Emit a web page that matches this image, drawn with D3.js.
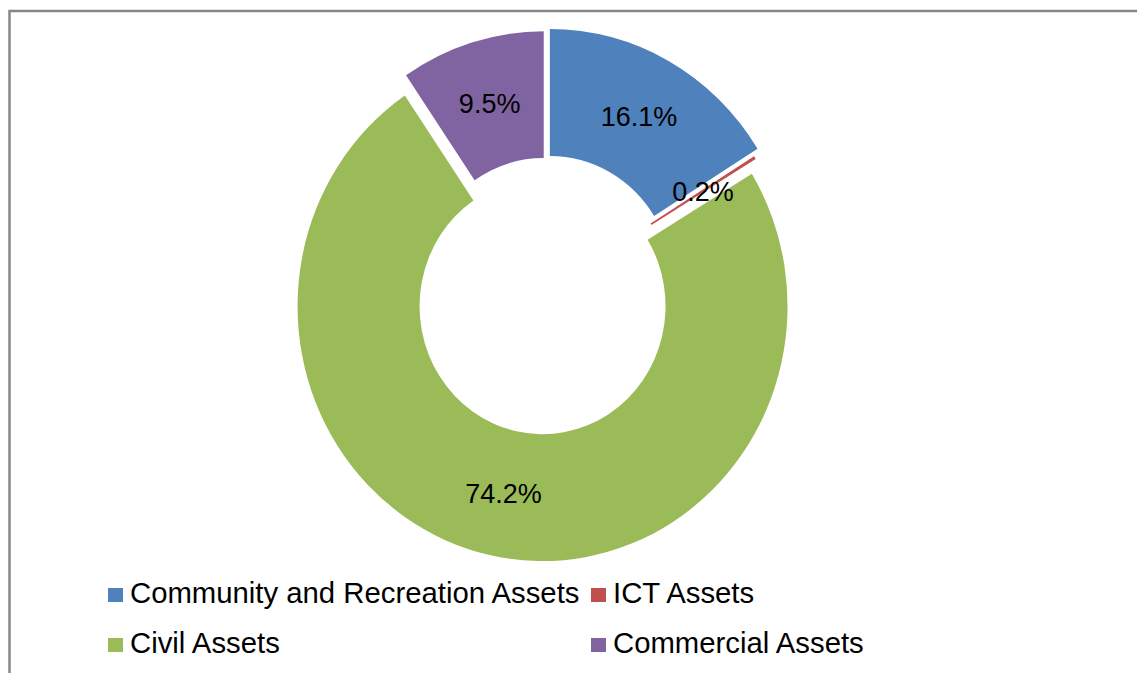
<!DOCTYPE html>
<html>
<head>
<meta charset="utf-8">
<script src="https://d3js.org/d3.v7.min.js"></script>
<style>
  body { margin: 0; background: #fff; }
  text { font-family: "Liberation Sans", Arial, sans-serif; fill: #000; }
</style>
</head>
<body>
<div id="chart-container"></div>
<script>
const categories = ["Community and Recreation Assets", "ICT Assets", "Civil Assets", "Commercial Assets"];
const shares = [16.1, 0.2, 74.2, 9.5];
const colors = ["#4F81BD", "#C0504D", "#9BBB59", "#8064A2"];

function renderChart() {
  const width = 1137, height = 673;
  const cx = 545.5, cy = 292, stretch = 1.04;
  const outerR = 245, innerR = 123;
  const explode = [9, 1, 14, 6]; // per slice, px

  const svg = d3.select("#chart-container").append("svg")
    .attr("width", width)
    .attr("height", height);

  // chart frame
  svg.append("rect")
    .attr("x", 9.5).attr("y", 11)
    .attr("width", width + 20).attr("height", height + 20)
    .attr("fill", "none")
    .attr("stroke", "#878787")
    .attr("stroke-width", 2.5);

  const color = d3.scaleOrdinal().domain(categories).range(colors);

  const pie = d3.pie().sort(null).value(d => d.value);
  const rows = categories.map((c, i) => ({ name: c, value: shares[i], i: i }));
  const arcs = pie(rows);

  const arc = d3.arc().innerRadius(innerR).outerRadius(outerR);
  const mid = d3.arc().innerRadius((innerR + outerR) / 2).outerRadius((innerR + outerR) / 2);

  function offset(d) {
    const a = (d.startAngle + d.endAngle) / 2;
    const e = explode[d.data.i];
    return [e * Math.sin(a), -e * Math.cos(a)];
  }

  const g = svg.append("g")
    .attr("transform", `translate(${cx},${cy}) scale(1,${stretch})`);

  g.selectAll("path")
    .data(arcs)
    .enter()
    .append("path")
    .attr("transform", d => `translate(${offset(d)})`)
    .attr("d", arc)
    .attr("fill", d => color(d.data.name));

  // labels on top of every slice
  g.selectAll("text")
    .data(arcs)
    .enter()
    .append("text")
    .attr("transform", d => `translate(${offset(d)})`)
    .attr("x", d => mid.centroid(d)[0])
    .attr("y", d => mid.centroid(d)[1])
    .attr("dy", "0.35em")
    .attr("text-anchor", "middle")
    .style("font-size", "27px")
    .text(d => d3.format(".1f")(d.data.value) + "%");

  // legend, two columns
  const colX = [108, 591];
  const rowY = [603, 653];
  const legend = svg.selectAll("g.legend")
    .data(categories)
    .enter()
    .append("g")
    .attr("class", "legend")
    .attr("transform", (d, i) => `translate(${colX[i % 2]},${rowY[Math.floor(i / 2)]})`);

  legend.append("rect")
    .attr("x", 0).attr("y", -15)
    .attr("width", 15).attr("height", 14)
    .attr("fill", d => color(d));

  legend.append("text")
    .attr("x", 22)
    .attr("y", 0)
    .style("font-size", "29.3px")
    .text(d => d);
}

renderChart();
</script>
</body>
</html>
